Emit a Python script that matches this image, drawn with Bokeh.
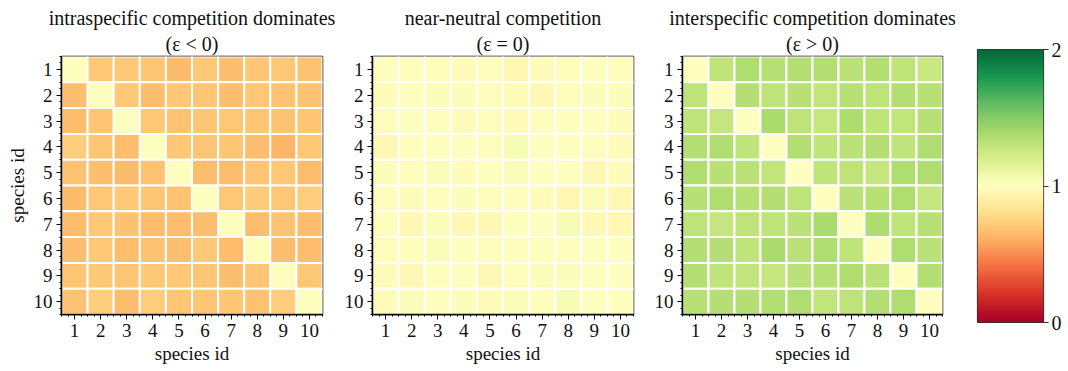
import numpy as np
from bokeh.plotting import figure
from bokeh.layouts import row, column
from bokeh.models import (Range1d, FixedTicker, LinearColorMapper, ColumnDataSource,
                          Title)
from bokeh.embed import file_html
from bokeh.resources import INLINE

species = list(range(1, 11))
tick_labels = [str(s) for s in species]

titles_1 = ["intraspecific competition dominates", "near-neutral competition",
            "interspecific competition dominates"]
titles_2 = ["(\u03b5 < 0)", "(\u03b5 = 0)", "(\u03b5 > 0)"]
axis_label = "species id"
cbar_ticks = [0, 1, 2]

# rows = species (top to bottom), columns = species (left to right)
intra = [
    [1.00, 0.71, 0.71, 0.69, 0.65, 0.71, 0.67, 0.70, 0.70, 0.68],
    [0.67, 1.00, 0.71, 0.67, 0.70, 0.69, 0.67, 0.70, 0.68, 0.68],
    [0.66, 0.69, 1.00, 0.71, 0.68, 0.69, 0.70, 0.69, 0.68, 0.69],
    [0.72, 0.69, 0.66, 1.00, 0.70, 0.69, 0.69, 0.66, 0.63, 0.70],
    [0.68, 0.67, 0.65, 0.68, 1.00, 0.66, 0.66, 0.69, 0.70, 0.66],
    [0.65, 0.70, 0.71, 0.69, 0.68, 1.00, 0.70, 0.72, 0.70, 0.72],
    [0.66, 0.71, 0.68, 0.66, 0.66, 0.67, 1.00, 0.66, 0.68, 0.66],
    [0.67, 0.71, 0.66, 0.68, 0.67, 0.71, 0.66, 1.00, 0.67, 0.66],
    [0.69, 0.71, 0.69, 0.71, 0.70, 0.69, 0.67, 0.69, 1.00, 0.70],
    [0.68, 0.73, 0.66, 0.72, 0.69, 0.69, 0.69, 0.68, 0.72, 1.00],
]
neutral = [
    [1.00, 0.99, 0.99, 0.98, 0.99, 0.95, 0.97, 0.99, 1.00, 0.99],
    [0.97, 1.00, 1.02, 1.02, 0.99, 0.98, 0.96, 0.99, 1.02, 1.02],
    [0.99, 1.00, 1.00, 0.98, 0.99, 0.98, 0.99, 1.00, 0.99, 0.98],
    [0.96, 0.99, 1.00, 1.00, 0.99, 1.04, 1.00, 1.00, 0.99, 0.98],
    [1.02, 0.99, 1.03, 0.97, 1.00, 1.03, 1.00, 1.00, 0.96, 0.98],
    [0.99, 0.97, 1.01, 1.02, 0.99, 1.00, 0.97, 0.95, 1.03, 0.95],
    [0.99, 0.96, 1.02, 0.96, 0.96, 1.00, 1.00, 1.04, 0.96, 0.95],
    [0.99, 0.99, 1.03, 1.00, 0.99, 1.00, 1.00, 1.00, 1.00, 1.00],
    [0.97, 0.96, 1.00, 1.00, 0.96, 1.01, 1.02, 1.02, 1.00, 1.00],
    [0.98, 1.02, 1.00, 1.02, 0.98, 1.02, 0.99, 1.04, 1.00, 1.00],
]
inter = [
    [1.00, 1.30, 1.36, 1.33, 1.35, 1.35, 1.32, 1.35, 1.31, 1.27],
    [1.31, 1.00, 1.34, 1.31, 1.33, 1.29, 1.33, 1.31, 1.35, 1.33],
    [1.31, 1.28, 1.00, 1.38, 1.31, 1.28, 1.37, 1.30, 1.29, 1.33],
    [1.34, 1.36, 1.30, 1.00, 1.35, 1.30, 1.32, 1.34, 1.30, 1.36],
    [1.36, 1.33, 1.32, 1.29, 1.00, 1.30, 1.31, 1.28, 1.36, 1.36],
    [1.33, 1.36, 1.33, 1.34, 1.31, 1.00, 1.32, 1.33, 1.36, 1.28],
    [1.31, 1.28, 1.31, 1.31, 1.32, 1.38, 1.00, 1.37, 1.30, 1.33],
    [1.34, 1.34, 1.30, 1.38, 1.32, 1.36, 1.30, 1.00, 1.36, 1.32],
    [1.34, 1.30, 1.29, 1.28, 1.32, 1.33, 1.36, 1.32, 1.00, 1.35],
    [1.33, 1.34, 1.34, 1.35, 1.36, 1.29, 1.31, 1.35, 1.36, 1.00],
]

# RdYlGn colour scale (red -> yellow -> green), interpolated smoothly
anchors = ["#a50026", "#d73027", "#f46d43", "#fdae61", "#fee08b", "#ffffbf",
           "#d9ef8b", "#a6d96a", "#66bd63", "#1a9850", "#006837"]
arr = np.array([[int(h[i:i + 2], 16) for i in (1, 3, 5)] for h in anchors], dtype=float)
pos = np.linspace(0, 1, len(anchors))
t = np.linspace(0, 1, 256)
rgb = np.stack([np.interp(t, pos, arr[:, k]) for k in range(3)], axis=1)
palette = ["#%02x%02x%02x" % tuple(int(round(v)) for v in c) for c in rgb]
mapper = LinearColorMapper(palette=palette, low=0, high=2)

FONT = "Liberation Serif"
TXT = "#111111"


def style_axis(ax):
    ax.ticker = FixedTicker(ticks=species,
                            minor_ticks=list(np.arange(0.5, 10.51, 0.25)))
    ax.major_label_overrides = {s: l for s, l in zip(species, tick_labels)}
    ax.major_label_text_font = FONT
    ax.major_label_text_font_size = "19px"
    ax.major_label_text_color = TXT
    ax.axis_label_text_font = FONT
    ax.axis_label_text_font_size = "19px"
    ax.axis_label_text_font_style = "normal"
    ax.axis_label_text_color = TXT
    ax.axis_line_color = "black"
    ax.axis_line_width = 1.5
    ax.major_tick_line_color = "black"
    ax.minor_tick_line_color = "black"
    ax.major_tick_out = 5
    ax.major_tick_in = 0
    ax.minor_tick_out = 2
    ax.minor_tick_in = 0
    ax.major_label_standoff = 4
    ax.axis_label_standoff = 3


def make_panel(vals, t1, t2, width, left, right, ylabel):
    p = figure(width=width, height=371, x_range=Range1d(0.5, 10.5),
               y_range=Range1d(10.5, 0.5), output_backend="svg",
               toolbar_location=None, min_border_left=left, min_border_right=right,
               min_border_top=56, min_border_bottom=57, title=None)
    xs, ys, vs = [], [], []
    for i, r in enumerate(species):
        for j, c in enumerate(species):
            xs.append(c)
            ys.append(r)
            vs.append(vals[i][j])
    src = ColumnDataSource(dict(x=xs, y=ys, v=vs))
    p.rect(x="x", y="y", width=1, height=1, source=src,
           fill_color={"field": "v", "transform": mapper},
           line_color="white", line_width=2)
    p.add_layout(Title(text=t2, align="center", text_font=FONT,
                       text_font_size="20px", text_font_style="normal",
                       text_color=TXT, standoff=4, offset=0), "above")
    p.add_layout(Title(text=t1, align="center", text_font=FONT,
                       text_font_size="20px", text_font_style="normal",
                       text_color=TXT, standoff=0, offset=0), "above")
    p.grid.visible = False
    p.outline_line_color = "black"
    p.outline_line_width = 1.5
    p.outline_line_alpha = 1
    style_axis(p.xaxis[0])
    style_axis(p.yaxis[0])
    p.xaxis.axis_label = axis_label
    if ylabel:
        p.yaxis.axis_label = axis_label
    return p


p1 = make_panel(intra, titles_1[0], titles_2[0], 340, 61, 18, True)
p2 = make_panel(neutral, titles_1[1], titles_2[1], 308, 32, 15, False)
p3 = make_panel(inter, titles_1[2], titles_2[2], 312, 34, 18, False)

# colour bar
pc = figure(width=108, height=371, x_range=Range1d(0, 1), y_range=Range1d(0, 2),
            output_backend="svg", toolbar_location=None, min_border_left=17,
            min_border_right=25, min_border_top=49, min_border_bottom=49,
            x_axis_location=None, y_axis_location="right")
grad = np.linspace(0, 2, 256).reshape(-1, 1)
pc.image(image=[grad], x=0, y=0, dw=1, dh=2, color_mapper=mapper)
pc.grid.visible = False
pc.outline_line_color = "#333333"
pc.outline_line_width = 1.2
ay = pc.yaxis[0]
ay.ticker = FixedTicker(ticks=cbar_ticks, minor_ticks=[])
ay.major_label_text_font = FONT
ay.major_label_text_font_size = "20px"
ay.major_label_text_color = TXT
ay.axis_line_color = None
ay.major_tick_out = 5
ay.major_tick_in = 0
ay.major_tick_line_color = "#333333"
ay.major_label_standoff = 3

layout = row(p1, p2, p3, column(pc))
open("out.html", "w").write(file_html(layout, INLINE))
